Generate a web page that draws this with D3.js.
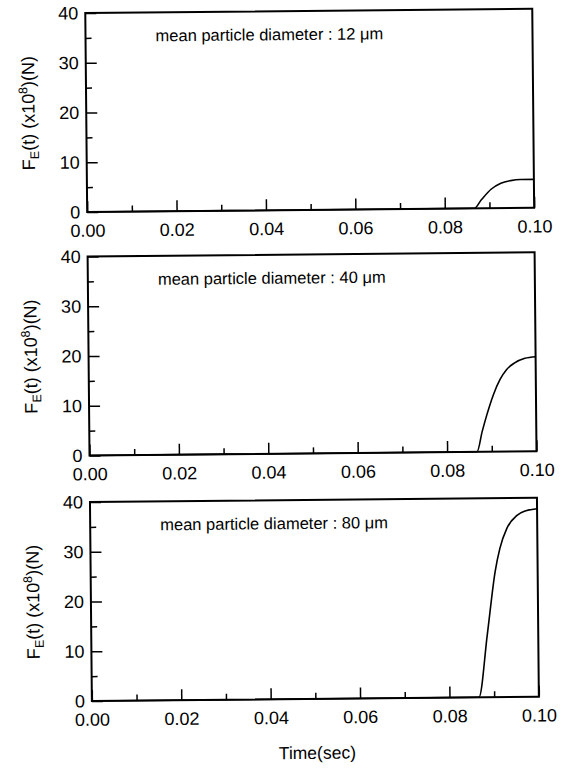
<!DOCTYPE html>
<html>
<head>
<meta charset="utf-8">
<script src="https://cdn.jsdelivr.net/npm/d3@7"></script>
<style>
  body { margin: 0; background: #fff; }
  text { font-family: "Liberation Sans", Arial, Helvetica, sans-serif; fill: #000; }
</style>
</head>
<body>
<script>
// tick values
const timeMajor = [0, 0.02, 0.04, 0.06, 0.08, 0.10];
const timeMinor = [0.01, 0.03, 0.05, 0.07, 0.09];
const forceMajor = [0, 10, 20, 30, 40];
const forceMinor = [5, 15, 25, 35];

// mean particle diameters (um), one panel each
const diameters = ["12", "40", "80"];

// F_E(t), x10^8 N
const time12  = [0, 0.0866, 0.0882, 0.0904, 0.0926, 0.0948, 0.0970, 0.1];
const force12 = [0, 0,      1.7,    3.8,    5.0,    5.5,    5.7,    5.7];

const time40  = [0, 0.0867, 0.0879, 0.0890, 0.0905, 0.0920, 0.0935, 0.0953, 0.0976, 0.1];
const force40 = [0, 0,      4.1,    7.5,    11.5,   14.5,   16.5,   17.8,   18.7,   19.0];

const time80  = [0, 0.0866, 0.0886, 0.0905, 0.0916, 0.0932, 0.0955, 0.0975, 0.1];
const force80 = [0, 0,      12.6,   25.3,   29.9,   33.9,   36.5,   37.4,   37.8];

const series = [
  { d: diameters[0], t: time12, f: force12 },
  { d: diameters[1], t: time40, f: force40 },
  { d: diameters[2], t: time80, f: force80 }
];

const svg = d3.select("body").append("svg")
  .attr("width", 565)
  .attr("height", 768);

// the scanned figure is tilted a little
const root = svg.append("g").attr("transform", "rotate(-0.55,300,400)");

const left = 89, width = 447, height = 199;
const tops = [11, 254.5, 500];
const font = "'Liberation Sans', Arial, Helvetica, sans-serif";

const x = d3.scaleLinear().domain([0, 0.1]).range([0, width]);
const y = d3.scaleLinear().domain([0, 40]).range([height, 0]);

const line = d3.line()
  .x(d => x(d[0]))
  .y(d => y(d[1]))
  .curve(d3.curveMonotoneX);

function styleAxis(sel) {
  sel.attr("font-size", 18).attr("font-family", font);
  sel.select(".domain").remove();
  sel.selectAll("line").attr("stroke-width", 1.5);
}

series.forEach((s, i) => {
  const g = root.append("g").attr("transform", `translate(${left},${tops[i]})`);

  g.append("g")
    .attr("transform", `translate(0,${height})`)
    .call(d3.axisBottom(x).tickValues(timeMinor).tickSize(-6).tickFormat(""))
    .call(styleAxis);

  g.append("g")
    .attr("transform", `translate(0,${height})`)
    .call(d3.axisBottom(x).tickValues(timeMajor).tickSizeInner(-11).tickSizeOuter(0)
      .tickPadding(12).tickFormat(d3.format(".2f")))
    .call(styleAxis);

  g.append("g")
    .call(d3.axisLeft(y).tickValues(forceMinor).tickSize(-6).tickFormat(""))
    .call(styleAxis);

  g.append("g")
    .call(d3.axisLeft(y).tickValues(forceMajor).tickSizeInner(-11).tickSizeOuter(0)
      .tickPadding(7).tickFormat(d3.format("d")))
    .call(styleAxis);

  g.append("rect")
    .attr("width", width)
    .attr("height", height)
    .attr("fill", "none")
    .attr("stroke", "#000")
    .attr("stroke-width", 2);

  g.append("path")
    .datum(s.t.map((t, j) => [t, s.f[j]]))
    .attr("fill", "none")
    .attr("stroke", "#000")
    .attr("stroke-width", 1.6)
    .attr("d", line);

  g.append("text")
    .attr("x", 70)
    .attr("y", 29)
    .attr("font-size", 16.5)
    .text(`mean particle diameter : ${s.d} \u03bcm`);

  // y axis title with sub/superscript
  const yt = g.append("text")
    .attr("transform", `translate(-58,${height / 2}) rotate(-90)`)
    .attr("text-anchor", "middle")
    .attr("dy", "0.35em")
    .attr("font-size", 18);
  yt.append("tspan").text("F");
  yt.append("tspan").attr("font-size", 12.5).attr("dy", 4).text("E");
  yt.append("tspan").attr("dy", -4).text("(t) (x10");
  yt.append("tspan").attr("font-size", 12.5).attr("dy", -7).text("8");
  yt.append("tspan").attr("dy", 7).text(")(N)");
});

root.append("text")
  .attr("x", left + 225)
  .attr("y", 759)
  .attr("text-anchor", "middle")
  .attr("font-size", 17.5)
  .text("Time(sec)");
</script>
</body>
</html>
